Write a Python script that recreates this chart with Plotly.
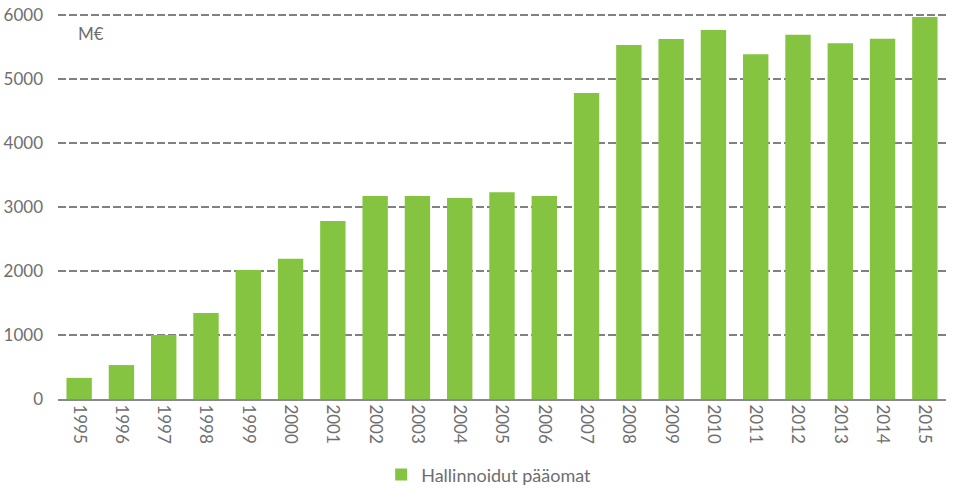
import plotly.graph_objects as go

years = [str(y) for y in range(1995, 2016)]
values = [330, 530, 1000, 1345, 2015, 2190, 2780, 3170, 3170, 3140, 3230, 3170,
          4780, 5530, 5625, 5765, 5385, 5690, 5560, 5630, 5970]
series_name = "Hallinnoidut pääomat"
y_ticks = [0, 1000, 2000, 3000, 4000, 5000, 6000]

font_family = "Lato, 'Open Sans', sans-serif"
grey = "#6e6e6e"

fig = go.Figure()
fig.add_trace(go.Bar(x=years, y=values, name=series_name, marker_color="#84C440",
                     marker_line_width=0))

fig.update_layout(
    width=956, height=488,
    margin=dict(l=58, r=10, t=12, b=89, autoexpand=False),
    plot_bgcolor="white", paper_bgcolor="white",
    bargap=0.4,
    showlegend=True,
    legend=dict(orientation="h", x=0.485, xanchor="center", yref="container",
                y=0.027, yanchor="middle", itemwidth=30,
                font=dict(family=font_family, size=18, color=grey)),
    font=dict(family=font_family, size=17, color=grey),
)
fig.update_xaxes(type="category", tickangle=90, showgrid=False, showline=True,
                 linecolor="#8a8a8a", linewidth=2, automargin=False,
                 tickfont=dict(family=font_family, size=17, color=grey))
fig.update_yaxes(range=[0, 6047], tickvals=y_ticks, showgrid=True, gridcolor="#808080",
                 griddash="8px,3px", gridwidth=1.5, zeroline=False, showline=False,
                 ticklabelstandoff=14, automargin=False,
                 tickfont=dict(family=font_family, size=17, color=grey))
fig.add_annotation(text="M€", xref="paper", yref="paper", x=0.02, y=0.945,
                   xanchor="left", yanchor="middle", showarrow=False,
                   font=dict(family=font_family, size=17, color=grey))

fig.write_html("out.html")
